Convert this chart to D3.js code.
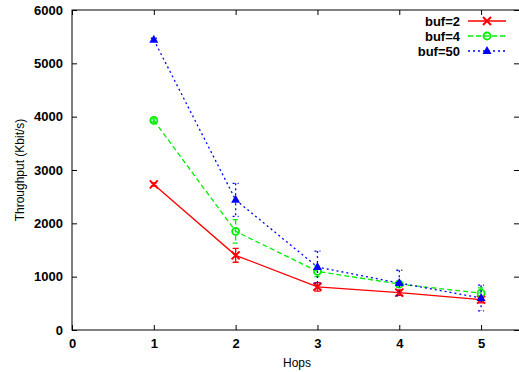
<!DOCTYPE html>
<html><head><meta charset="utf-8">
<script src="https://cdn.jsdelivr.net/npm/d3@7"></script>
<style>body{margin:0;background:#fff}svg{display:block}</style>
</head><body>
<svg id="c" width="519" height="372"></svg>
<script>
const hops = [1, 2, 3, 4, 5];
const seriesNames = ["buf=2", "buf=4", "buf=50"];
const buf2 = [2730, 1400, 810, 700, 570];
const err2 = [30, 130, 80, 50, 60];
const buf4 = [3930, 1850, 1100, 860, 690];
const err4 = [30, 220, 100, 60, 100];
const buf50 = [5440, 2440, 1180, 880, 600];
const err50 = [30, 310, 300, 240, 240];
const xTicks = [0, 1, 2, 3, 4, 5];
const yTicks = [0, 1000, 2000, 3000, 4000, 5000, 6000];

const svg = d3.select("#c");
const L = 72, T = 10, B = 330, R = 522;
const x = d3.scaleLinear().domain([0, 5.5]).range([L, R]);
const y = d3.scaleLinear().domain([0, 6000]).range([B, T]);
const font = "Liberation Sans, Arial, sans-serif";

// frame
svg.append("rect").attr("x", L).attr("y", T).attr("width", R - L).attr("height", B - T)
  .attr("fill", "none").attr("stroke", "#000").attr("stroke-width", 1);

// axes
svg.append("g").attr("transform", `translate(0,${B})`)
  .call(d3.axisBottom(x).tickValues(xTicks).tickFormat(d3.format("d")).tickSizeInner(-5).tickSizeOuter(0).tickPadding(9));
svg.append("g").attr("transform", `translate(${L},0)`)
  .call(d3.axisLeft(y).tickValues(yTicks).tickFormat(d3.format("d")).tickSizeInner(-5).tickSizeOuter(0).tickPadding(9));
svg.append("g").attr("transform", `translate(0,${T})`)
  .call(d3.axisTop(x).tickValues(xTicks).tickFormat("").tickSizeInner(-5).tickSizeOuter(0));
svg.append("g").attr("transform", `translate(${519},0)`)
  .call(d3.axisRight(y).tickValues(yTicks).tickFormat("").tickSizeInner(-5).tickSizeOuter(0));
svg.selectAll(".domain").remove();
svg.selectAll(".tick line").attr("stroke", "#000");
svg.selectAll(".tick text").attr("font-family", font).attr("font-size", 13)
  .attr("font-weight", "bold").attr("fill", "#000");

// titles
svg.append("text").attr("x", 297).attr("y", 367).attr("text-anchor", "middle")
  .attr("font-family", font).attr("font-size", 12).text("Hops");
svg.append("text").attr("transform", "translate(24,170) rotate(-90)").attr("text-anchor", "middle")
  .attr("font-family", font).attr("font-size", 12).text("Throughput (Kbit/s)");

const series = [
  {name: seriesNames[0], vals: buf2, errs: err2, color: "#ff0000", dash: null, mark: "cross"},
  {name: seriesNames[1], vals: buf4, errs: err4, color: "#00ee00", dash: "5,3", mark: "circle"},
  {name: seriesNames[2], vals: buf50, errs: err50, color: "#0000ff", dash: "2,3", mark: "triangle"}
];

function drawMarker(g, cx, cy, s) {
  if (s.mark === "cross") {
    g.append("path").attr("d", `M${cx-4},${cy-4}L${cx+4},${cy+4}M${cx-4},${cy+4}L${cx+4},${cy-4}`)
      .attr("stroke", s.color).attr("stroke-width", 2).attr("fill", "none");
  } else if (s.mark === "circle") {
    g.append("circle").attr("cx", cx).attr("cy", cy).attr("r", 3.5)
      .attr("stroke", s.color).attr("stroke-width", 1.8).attr("fill", "none");
  } else {
    g.append("path").attr("d", `M${cx},${cy-5}L${cx+4.5},${cy+3}L${cx-4.5},${cy+3}Z`)
      .attr("fill", s.color);
  }
}

const line = d3.line().x(d => x(d[0])).y(d => y(d[1]));
const plot = svg.append("g");
series.forEach(s => {
  const g = plot.append("g");
  const pts = hops.map((h, i) => [h, s.vals[i]]);
  g.append("path").datum(pts).attr("d", line).attr("fill", "none")
    .attr("stroke", s.color).attr("stroke-width", 1.3)
    .attr("stroke-dasharray", s.dash);
  hops.forEach((h, i) => {
    const cx = x(h), y1 = y(s.vals[i] + s.errs[i]), y2 = y(s.vals[i] - s.errs[i]);
    g.append("path").attr("d", `M${cx},${y1}L${cx},${y2}M${cx-3},${y1}L${cx+3},${y1}M${cx-3},${y2}L${cx+3},${y2}`)
      .attr("stroke", s.color).attr("stroke-width", 1.3).attr("fill", "none")
      .attr("stroke-dasharray", s.dash);
    drawMarker(g, cx, y(s.vals[i]), s);
  });
});

// legend
series.forEach((s, i) => {
  const ly = 21 + i * 15;
  svg.append("text").attr("x", 460).attr("y", ly + 4.5).attr("text-anchor", "end")
    .attr("font-family", font).attr("font-size", 13).attr("font-weight", "bold").text(s.name);
  svg.append("line").attr("x1", 468).attr("x2", 506).attr("y1", ly).attr("y2", ly)
    .attr("stroke", s.color).attr("stroke-width", 1.3).attr("stroke-dasharray", s.dash);
  drawMarker(svg, 487, ly, s);
});
</script>
</body></html>
